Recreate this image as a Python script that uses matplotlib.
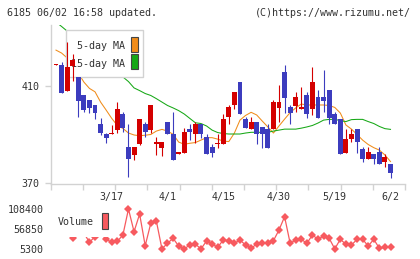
import numpy as np
import matplotlib
matplotlib.use("Agg")
import matplotlib.pyplot as plt
from matplotlib.patches import Rectangle
import matplotlib.transforms as mtransforms

# ---- data (61 trading days, 3/3 .. 6/2) ----
opens = [418.3, 418.5, 408.0, 418.1, 413.7, 406.2, 404.0, 402.1, 394.3, 390.2,
         390.2, 392.0, 398.4, 384.9, 381.6, 386.0, 394.3, 391.8, 386.0, 384.6,
         395.0, 390.1, 381.9, 382.5, 392.2, 390.1, 394.3, 388.9, 384.9, 386.0,
         386.0, 397.0, 402.1, 411.6, 396.2, 392.1, 395.0, 392.9, 392.2, 392.1,
         401.0, 415.5, 401.1, 401.8, 400.3, 406.2, 400.3, 405.5, 405.5, 408.2,
         398.3, 396.3, 382.5, 388.0, 392.2, 384.0, 379.8, 381.9, 382.7, 378.6,
         377.8]
highs = [418.8, 419.6, 428.0, 423.0, 413.7, 406.2, 404.0, 402.1, 396.7, 390.5,
         393.9, 403.4, 399.2, 394.3, 384.9, 396.5, 395.2, 402.1, 388.8, 387.0,
         395.0, 399.1, 382.9, 392.6, 394.2, 395.2, 394.3, 390.2, 386.1, 390.2,
         398.4, 402.1, 407.5, 411.6, 397.0, 397.0, 395.0, 392.9, 394.2, 404.1,
         410.3, 418.5, 402.1, 407.5, 409.6, 407.5, 417.8, 408.2, 416.4, 408.2,
         399.1, 396.3, 392.2, 392.2, 392.2, 385.0, 384.7, 381.9, 384.7, 381.9,
         377.8]
lows = [418.3, 407.1, 408.0, 411.9, 397.0, 399.1, 399.0, 396.3, 389.8, 386.7,
        390.2, 390.6, 391.0, 372.4, 379.5, 385.8, 388.8, 390.5, 381.6, 381.3,
        390.1, 379.5, 381.9, 382.5, 387.7, 386.6, 388.7, 381.9, 380.6, 384.6,
        386.0, 394.2, 400.3, 398.3, 392.8, 392.1, 386.0, 384.6, 384.6, 392.1,
        395.0, 398.7, 394.2, 399.1, 400.3, 396.9, 398.0, 396.9, 399.2, 394.2,
        394.2, 381.9, 382.5, 386.8, 382.5, 378.6, 379.8, 377.8, 377.8, 376.5,
        372.3]
closes = [418.6, 407.1, 417.8, 420.7, 403.8, 400.0, 401.0, 399.0, 390.7, 388.7,
          390.4, 400.4, 392.6, 379.8, 384.9, 396.3, 390.9, 402.1, 387.0, 387.0,
          390.1, 379.5, 382.9, 391.1, 390.9, 394.3, 390.1, 381.9, 382.5, 386.2,
          396.2, 401.4, 407.5, 398.3, 392.8, 395.0, 390.1, 390.1, 384.6, 403.2,
          403.2, 405.1, 398.9, 405.5, 401.1, 398.3, 411.4, 396.9, 403.7, 396.9,
          394.2, 381.9, 388.1, 390.2, 386.8, 379.8, 382.7, 379.8, 377.8, 380.6,
          374.3]

ma5 = [424.6, 423.4, 421.4, 418.5, 415.2, 411.5, 408.9, 407.5, 403.3, 400.0,
       396.6, 393.7, 392.5, 390.6, 389.8, 389.5, 389.7, 390.0, 391.4, 392.1,
       391.4, 390.1, 386.9, 386.0, 386.4, 386.7, 387.7, 388.7, 388.7, 388.1,
       387.3, 387.1, 390.6, 395.9, 397.8, 399.1, 398.0, 395.5, 393.1, 390.6,
       393.5, 396.3, 399.0, 400.9, 402.5, 402.1, 402.1, 402.1, 402.1, 401.9,
       401.1, 398.8, 393.9, 392.2, 390.0, 387.7, 385.9, 384.6, 383.6, 381.6,
       378.9]
ma15 = [436.1, 434.3, 432.4, 430.4, 428.3, 426.3, 424.2, 422.2, 420.1, 418.1,
        416.4, 414.8, 413.6, 411.7, 409.1, 408.0, 406.8, 406.0, 404.7, 403.3,
        401.9, 400.9, 399.8, 398.4, 396.6, 394.8, 394.5, 393.5, 391.8, 390.8,
        390.4, 390.2, 390.2, 390.2, 390.6, 390.9, 390.9, 390.9, 390.9, 391.4,
        391.8, 392.2, 392.2, 392.2, 392.6, 393.1, 393.7, 394.7, 395.9, 396.2,
        396.2, 395.7, 395.3, 396.1, 396.2, 396.2, 395.3, 394.5, 393.3, 392.4,
        392.1]

volume = [49100, 59400, 54300, 34900, 51700, 46500, 22600, 37500, 46500, 30300,
          22600, 25100, 41400, 108400, 49900, 95500, 13800, 71500, 77500, 5800,
          20000, 32900, 13000, 5600, 15600, 18200, 5300, 25900, 18200, 9700,
          28500, 26700, 20000, 28500, 15600, 7100, 18200, 20000, 20000, 26700,
          54300, 88600, 20000, 28500, 30300, 20000, 41400, 30300, 38800, 32900,
          5700, 30300, 17400, 15600, 30300, 30300, 13000, 30300, 7100, 9700,
          11200]

date_labels = ["3/17", "4/1", "4/15", "4/30", "5/19", "6/2"]
date_index = [10, 20, 30, 40, 50, 60]

W, H = 420, 259
RED = "#d40000"
BLUE = "#3c3cbe"
ORANGE = "#f08c1a"
GREEN = "#16a816"
VOLC = "#f75a5f"
GRAY = "#d2d2d2"
TXT = "#333333"
FONT = "DejaVu Sans Mono"
FS = 7.2

plt.rcParams["font.family"] = FONT


def fx(x):
    return x / W


def fy(y):
    return 1 - y / H


fig = plt.figure(figsize=(4.2, 2.59), dpi=100)

# ---- price panel ----
ax = fig.add_axes([fx(50.7), fy(184), fx(405) - fx(50.7), fy(25) - fy(184)])
n = len(closes)
idx = np.arange(n)
xlim = (-0.95, 62.6)
ax.set_xlim(*xlim)
ax.set_ylim(369.7, 434.9)

ax.plot(idx, ma5, color=ORANGE, lw=0.75, zorder=1)
ax.plot(idx, ma15, color=GREEN, lw=0.75, zorder=1)

for i in range(n):
    o, h, l, c = opens[i], highs[i], lows[i], closes[i]
    col = RED if c >= o else BLUE
    ax.vlines(i, l, h, color=col, lw=0.8, zorder=4)
    bot = min(o, c)
    ht = max(abs(c - o), 0.45)
    ax.bar(i, ht, bottom=bot, width=0.88, color=col, lw=0, zorder=4)

for s in ["top", "right"]:
    ax.spines[s].set_visible(False)
for s in ["left", "bottom"]:
    ax.spines[s].set_color(GRAY)
    ax.spines[s].set_linewidth(1.0)
ax.set_xticks(np.linspace(xlim[0], xlim[1], 12))
ax.set_xticklabels([])
ax.set_yticks([370, 410])
ax.set_yticklabels(["370", "410"], fontsize=FS, color=TXT)
ax.tick_params(axis="both", color=GRAY, length=4, width=1.0, direction="out")
ax.tick_params(axis="y", pad=4)

# legend box (drawn over MA lines, under candles)
ax.add_patch(Rectangle((fx(65.7), fy(77)), fx(143.3) - fx(65.7), fy(30) - fy(77),
                       transform=fig.transFigure, facecolor="white",
                       edgecolor=GRAY, lw=1.0, zorder=2, clip_on=False))
ax.text(fx(125), fy(46), "5-day MA", transform=fig.transFigure, ha="right",
        va="center", fontsize=FS, color=TXT, zorder=3)
ax.text(fx(125), fy(63.5), "15-day MA", transform=fig.transFigure, ha="right",
        va="center", fontsize=FS, color=TXT, zorder=3)
ax.add_patch(Rectangle((fx(131), fy(52.3)), fx(137.7) - fx(131), fy(37.3) - fy(52.3),
                       transform=fig.transFigure, facecolor=ORANGE,
                       edgecolor="#444444", lw=0.8, zorder=3, clip_on=False))
ax.add_patch(Rectangle((fx(131), fy(69.3)), fx(137.7) - fx(131), fy(54.3) - fy(69.3),
                       transform=fig.transFigure, facecolor=GREEN,
                       edgecolor="#444444", lw=0.8, zorder=3, clip_on=False))

# date labels between panels
tr = mtransforms.blended_transform_factory(ax.transData, fig.transFigure)
for lab, k in zip(date_labels, date_index):
    ax.text(k, fy(197.3), lab, transform=tr, ha="center", va="center",
            fontsize=FS, color=TXT, clip_on=False)

# ---- volume panel ----
vmin, vmax = min(volume), max(volume)
pxv = (vmax - vmin) / 40.0
axv = fig.add_axes([fx(50.7), fy(255), fx(405) - fx(50.7), fy(203) - fy(255)])
axv.set_xlim(*xlim)
axv.set_ylim(vmin - 6 * pxv, vmin + 46 * pxv)
axv.plot(idx, volume, color=VOLC, lw=0.9, marker="D", ms=4.4,
         markeredgewidth=0, zorder=2)
for s in axv.spines.values():
    s.set_visible(False)
axv.set_xticks([])
mid = (vmin + vmax) / 2
axv.set_yticks([vmin, mid, vmax])
axv.set_yticklabels([str(vmin), str(int(mid)), str(vmax)], fontsize=FS, color=TXT)
axv.tick_params(axis="y", length=0, pad=5)

axv.add_patch(Rectangle((fx(52), fy(236.5)), fx(111) - fx(52), fy(203) - fy(236.5),
                        transform=fig.transFigure, facecolor="white",
                        edgecolor="none", zorder=5, clip_on=False))
axv.text(fx(58), fy(222.3), "Volume", transform=fig.transFigure, ha="left",
         va="center", fontsize=FS, color=TXT, zorder=6)
axv.add_patch(Rectangle((fx(101.7), fy(228.7)), fx(107.7) - fx(101.7), fy(212.7) - fy(228.7),
                        transform=fig.transFigure, facecolor=VOLC,
                        edgecolor="#444444", lw=0.8, zorder=6, clip_on=False))

# header
fig.text(fx(7.3), fy(13), "6185 06/02 16:58 updated.", ha="left", va="center",
         fontsize=FS, color=TXT)
fig.text(fx(410.5), fy(13), "(C)https://www.rizumu.net/", ha="right", va="center",
         fontsize=FS, color=TXT)

fig.savefig("out.png", dpi=100)
